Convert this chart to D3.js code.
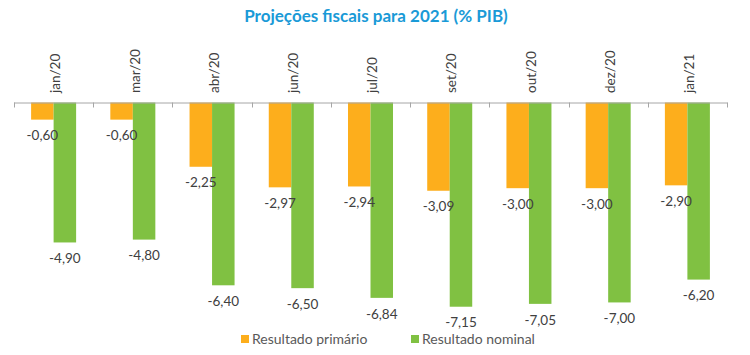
<!DOCTYPE html>
<html>
<head>
<meta charset="utf-8">
<script src="https://cdn.jsdelivr.net/npm/d3@7"></script>
<style>
  html, body { margin: 0; padding: 0; background: #fff; }
  svg { display: block; }
</style>
</head>
<body>
<svg id="chart" width="750" height="355"></svg>
<script>
const categories = ["jan/20", "mar/20", "abr/20", "jun/20", "jul/20", "set/20", "out/20", "dez/20", "jan/21"];
const seriesNames = ["Resultado primário", "Resultado nominal"];
const primario = [-0.60, -0.60, -2.25, -2.97, -2.94, -3.09, -3.00, -3.00, -2.90];
const nominal = [-4.90, -4.80, -6.40, -6.50, -6.84, -7.15, -7.05, -7.00, -6.20];
const title = "Projeções fiscais para 2021 (% PIB)";

const colors = ["#FDAE1C", "#80C142"];
const font = "Lato, 'Open Sans', sans-serif";
const values = [primario, nominal];

const svg = d3.select("#chart");

const x0 = d3.scaleBand().domain(categories).range([14, 727]).paddingInner(0).paddingOuter(0);
const x1 = d3.scaleBand().domain(seriesNames).range([0, x0.bandwidth()]).paddingInner(0).paddingOuter(0.76);
const y = d3.scaleLinear().domain([-8, 0]).range([331, 102.5]);

// Title
svg.append("text")
  .attr("x", 376).attr("y", 22)
  .attr("text-anchor", "middle")
  .attr("font-family", font)
  .attr("font-weight", "bold")
  .attr("font-size", 17)
  .attr("fill", "#1A9AD7")
  .text(title);

// Bars
const groups = svg.append("g").selectAll("g")
  .data(categories)
  .join("g")
  .attr("transform", d => `translate(${x0(d)},0)`);

groups.selectAll("rect")
  .data((d, i) => seriesNames.map((s, k) => ({ s, v: values[k][i], k })))
  .join("rect")
  .attr("x", d => x1(d.s))
  .attr("width", x1.bandwidth())
  .attr("y", d => y(0))
  .attr("height", d => y(d.v) - y(0))
  .attr("fill", d => colors[d.k]);

// Axis at zero
const axis = d3.axisBottom(x0).tickSize(5).tickFormat("");
const axG = svg.append("g").attr("transform", `translate(0,${y(0)})`).call(axis);
axG.selectAll(".tick").remove();
axG.select(".domain").attr("stroke", "#A6A6A6").attr("d", `M14,0.5H727.5`);
const bounds = categories.map(c => x0(c)).concat([x0.range()[1]]);
axG.selectAll("line.bt").data(bounds).join("line")
  .attr("class", "bt")
  .attr("x1", d => Math.round(d) + 0.5).attr("x2", d => Math.round(d) + 0.5)
  .attr("y1", 0).attr("y2", 5)
  .attr("stroke", "#A6A6A6");

// Category labels (rotated, at top)
svg.append("g").selectAll("text")
  .data(categories)
  .join("text")
  .attr("transform", d => `translate(${x0(d) + x0.bandwidth() / 2 + 2},93) rotate(-90)`)
  .attr("text-anchor", "start")
  .attr("dy", "0.35em")
  .attr("font-family", font)
  .attr("font-size", 13.5)
  .attr("fill", "#404040")
  .text(d => d);

// Value labels
const fmt = v => v.toFixed(2).replace(".", ",");
groups.selectAll("text.val")
  .data((d, i) => seriesNames.map((s, k) => ({ s, v: values[k][i], k })))
  .join("text")
  .attr("class", "val")
  .attr("x", d => x1(d.s) + x1.bandwidth() / 2)
  .attr("y", d => y(d.v) + 16)
  .attr("dy", "0.35em")
  .attr("text-anchor", "middle")
  .attr("font-family", font)
  .attr("font-size", 13.5)
  .attr("fill", "#404040")
  .text(d => fmt(d.v));

// Legend
const legend = svg.append("g");
const legendX = [241, 411];
seriesNames.forEach((s, k) => {
  legend.append("rect")
    .attr("x", legendX[k]).attr("y", 335)
    .attr("width", 8).attr("height", 8)
    .attr("fill", colors[k]);
  legend.append("text")
    .attr("x", legendX[k] + 11).attr("y", 339)
    .attr("dy", "0.35em")
    .attr("font-family", font)
    .attr("font-size", 14)
    .attr("fill", "#595959")
    .text(s);
});
</script>
</body>
</html>
